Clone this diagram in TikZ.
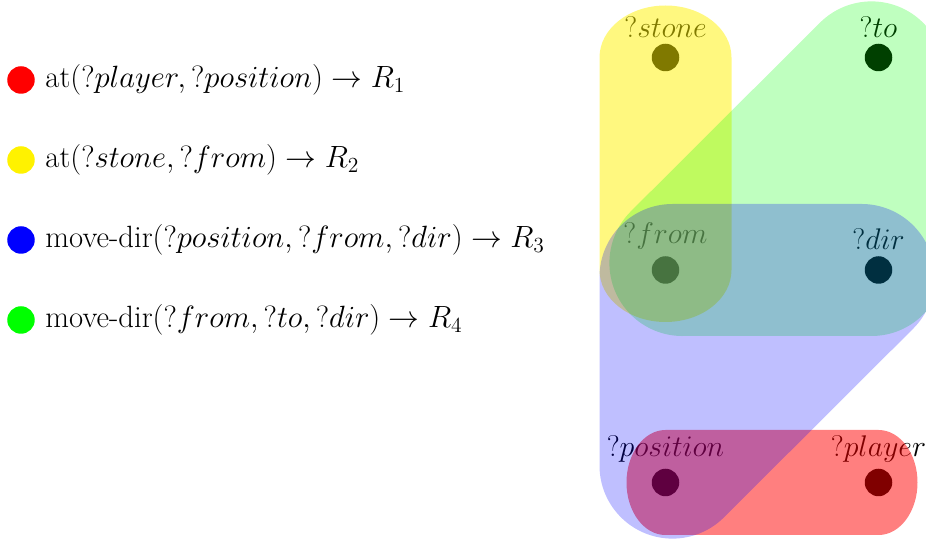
\documentclass[tikz,border=0pt]{standalone}
\usepackage{fix-cm}
\usepackage{amsmath}
\usetikzlibrary{positioning, calc}

\begin{document}
\begin{tikzpicture}[
  vardot/.style={circle, fill=black, minimum size=0.55cm, inner sep=0pt},
  varname/.style={font=\fontsize{17}{20}\selectfont},
  keydot/.style={circle, minimum size=0.55cm, inner sep=0pt},
  keytext/.style={font=\fontsize{17.5}{21}\selectfont, inner sep=0pt},
  hull/.style={draw=none, fill opacity=#1}
]
  \useasboundingbox (0,0) rectangle (18.52,-10.8);
  \clip (0,0) rectangle (18.52,-10.8);

  % legend
  \node[keydot, fill=red]    (k1) at (0.42,-1.6) {};
  \node[keydot, fill=yellow] (k2) at (0.42,-3.2) {};
  \node[keydot, fill=blue]   (k3) at (0.42,-4.8) {};
  \node[keydot, fill=green]  (k4) at (0.42,-6.4) {};

  \node[keytext, right=0.2cm of k1] (t1)
    {at$(?player, ?position) \rightarrow R_1$};
  \node[keytext, right=0.2cm of k2] (t2)
    {at$(?stone, ?from) \rightarrow R_2$};
  \node[keytext, right=0.2cm of k3] (t3)
    {move-dir$(?position, ?from, ?dir) \rightarrow R_3$};
  \node[keytext, right=0.2cm of k4] (t4)
    {move-dir$(?from, ?to, ?dir) \rightarrow R_4$};

  % variables
  \node[vardot, label={[varname]above:$?stone$}]    (stone)    at (13.31,-1.15) {};
  \node[vardot, label={[varname]above:$?to$}]       (to)       at (17.57,-1.15) {};
  \node[vardot, label={[varname]above:$?from$}]     (from)     at (13.31,-5.40) {};
  \node[vardot, label={[varname]above:$?dir$}]      (dir)      at (17.57,-5.40) {};
  \node[vardot, label={[varname]above:$?position$}] (position) at (13.31,-9.65) {};
  \node[vardot, label={[varname]above:$?player$}]   (player)   at (17.57,-9.65) {};

  % R1: at(?player, ?position)
  \fill[red, hull=.5] ($(position)+(0,1.05)$) -- ($(player)+(0,1.05)$)
    arc[start angle=90, end angle=-90, x radius=0.78cm, y radius=1.05cm]
    -- ($(position)+(0,-1.05)$)
    arc[start angle=270, end angle=90, x radius=0.78cm, y radius=1.05cm] -- cycle;

  % R2: at(?stone, ?from)
  \fill[yellow, hull=.5] ($(stone)+(-1.32,0)$)
    arc[start angle=180, end angle=0, x radius=1.32cm, y radius=1.04cm]
    -- ($(from)+(1.32,0)$)
    arc[start angle=0, end angle=-180, x radius=1.32cm, y radius=1.04cm] -- cycle;

  % R4: move-dir(?from, ?to, ?dir)
  \fill[green, hull=.25] ($(from)+(0.338,-1.32)$) -- ($(dir)+(-0.14,-1.32)$)
    arc[start angle=270, end angle=360, radius=1.46cm]
    -- ($(to)+(1.32,-0.338)$)
    arc[start angle=0, end angle=135, radius=1.46cm]
    -- ($(from)+(-0.694,1.172)$)
    arc[start angle=135, end angle=270, radius=1.46cm] -- cycle;

  % R3: move-dir(?position, ?from, ?dir)
  \fill[blue, hull=.25] ($(from)+(-1.32,-0.14)$) -- ($(position)+(-1.32,0.338)$)
    arc[start angle=180, end angle=315, radius=1.46cm]
    -- ($(dir)+(0.694,-1.172)$)
    arc[start angle=-45, end angle=90, radius=1.46cm]
    -- ($(from)+(0.14,1.32)$)
    arc[start angle=90, end angle=180, radius=1.46cm] -- cycle;
\end{tikzpicture}
\end{document}
